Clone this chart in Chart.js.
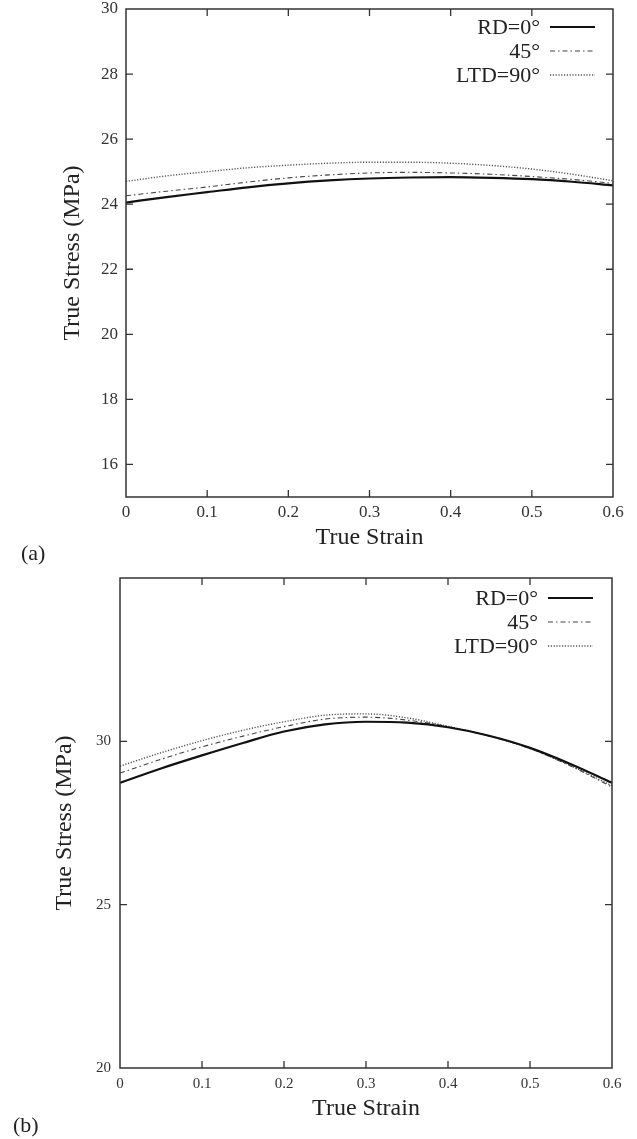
<!DOCTYPE html>
<html>
<head>
<meta charset="utf-8">
<script src="https://cdn.jsdelivr.net/npm/chart.js@4"></script>
<style>
  html, body { margin: 0; padding: 0; background: #fff; }
  body { width: 637px; height: 1139px; position: relative; overflow: hidden; }
  canvas { position: absolute; left: 0; }
  .panel { position: absolute; font-family: 'Liberation Serif', 'Times New Roman', serif; font-size: 22px; color: #222; }
</style>
</head>
<body>
<canvas id="chartA" width="637" height="560" style="top:0;width:637px;height:560px"></canvas>
<canvas id="chartB" width="637" height="579" style="top:560px;width:637px;height:579px"></canvas>
<div class="panel" style="left:21px;top:540px">(a)</div>
<div class="panel" style="left:13px;top:1112px">(b)</div>
<script>
// ---- data ----
const strain = [0, 0.05, 0.1, 0.15, 0.2, 0.25, 0.3, 0.35, 0.4, 0.45, 0.5, 0.55, 0.6];
const seriesLabels = ['RD=0°', '45°', 'LTD=90°'];

// panel (a)
const stressA_RD  = [24.05, 24.22, 24.37, 24.52, 24.64, 24.73, 24.79, 24.82, 24.83, 24.81, 24.77, 24.69, 24.58];
const stressA_45  = [24.26, 24.40, 24.53, 24.68, 24.81, 24.90, 24.96, 24.98, 24.96, 24.92, 24.85, 24.76, 24.64];
const stressA_LTD = [24.70, 24.87, 25.00, 25.12, 25.20, 25.26, 25.29, 25.29, 25.26, 25.19, 25.08, 24.92, 24.72];

// panel (b)
const stressB_RD  = [28.73, 29.17, 29.57, 29.95, 30.30, 30.52, 30.60, 30.57, 30.43, 30.17, 29.80, 29.30, 28.73];
const stressB_45  = [29.03, 29.45, 29.83, 30.16, 30.45, 30.68, 30.74, 30.65, 30.45, 30.16, 29.78, 29.24, 28.60];
const stressB_LTD = [29.24, 29.65, 30.02, 30.34, 30.60, 30.80, 30.84, 30.72, 30.46, 30.17, 29.78, 29.25, 28.64];

// tick labels
const xTicks = [0, 0.1, 0.2, 0.3, 0.4, 0.5, 0.6];
const yTicksA = [16, 18, 20, 22, 24, 26, 28, 30];
const yTicksB = [20, 25, 30];

const xTitle = 'True Strain';
const yTitle = 'True Stress (MPa)';

// ---- styling ----
const FONT = "'Liberation Serif', 'Times New Roman', serif";
const styles = [
  { borderColor: '#111', borderWidth: 2.2, borderDash: [] },
  { borderColor: '#444', borderWidth: 1.1, borderDash: [5, 3, 1.5, 3] },
  { borderColor: '#555', borderWidth: 1.4, borderDash: [1.2, 1.6] }
];

function makeDatasets(arrs) {
  return arrs.map((arr, i) => ({
    label: seriesLabels[i],
    data: strain.map((x, j) => ({ x: x, y: arr[j] })),
    borderColor: styles[i].borderColor,
    borderWidth: styles[i].borderWidth,
    borderDash: styles[i].borderDash,
    pointRadius: 0,
    fill: false,
    cubicInterpolationMode: 'monotone',
    tension: 0.4
  }));
}

// frame + inward ticks (gnuplot style)
const framePlugin = {
  id: 'frame',
  afterDatasetsDraw(chart) {
    const { ctx, chartArea: a, scales } = chart;
    const tl = 7;
    ctx.save();
    ctx.strokeStyle = '#333';
    ctx.lineWidth = 1.5;
    ctx.setLineDash([]);
    ctx.strokeRect(a.left, a.top, a.right - a.left, a.bottom - a.top);
    ctx.lineWidth = 1.3;
    ctx.beginPath();
    scales.x.ticks.forEach(t => {
      const px = scales.x.getPixelForValue(t.value);
      if (px <= a.left + 1 || px >= a.right - 1) return;
      ctx.moveTo(px, a.bottom); ctx.lineTo(px, a.bottom - tl);
      ctx.moveTo(px, a.top); ctx.lineTo(px, a.top + tl);
    });
    scales.y.ticks.forEach(t => {
      const py = scales.y.getPixelForValue(t.value);
      if (py <= a.top + 1 || py >= a.bottom - 1) return;
      ctx.moveTo(a.left, py); ctx.lineTo(a.left + tl, py);
      ctx.moveTo(a.right, py); ctx.lineTo(a.right - tl, py);
    });
    ctx.stroke();
    ctx.restore();
  }
};

// legend: text right-aligned, then line sample
const legendPlugin = {
  id: 'keyLegend',
  afterDatasetsDraw(chart, args, opts) {
    const { ctx, chartArea: a } = chart;
    ctx.save();
    ctx.font = `${opts.fontSize}px ${FONT}`;
    ctx.fillStyle = '#222';
    ctx.textAlign = 'right';
    ctx.textBaseline = 'middle';
    chart.data.datasets.forEach((ds, i) => {
      const y = a.top + opts.firstRow + i * opts.rowHeight;
      ctx.fillText(ds.label, a.right - opts.textRight, y + 1);
      ctx.strokeStyle = ds.borderColor;
      ctx.lineWidth = ds.borderWidth;
      ctx.setLineDash(ds.borderDash || []);
      ctx.beginPath();
      ctx.moveTo(a.right - opts.lineStart, y);
      ctx.lineTo(a.right - opts.lineEnd, y);
      ctx.stroke();
    });
    ctx.restore();
  }
};

function fmt(v) { return String(Math.round(v * 10) / 10); }

function makeChart(id, datasets, cfg) {
  return new Chart(document.getElementById(id), {
    type: 'line',
    data: { datasets: datasets },
    plugins: [framePlugin, legendPlugin],
    options: {
      responsive: false,
      animation: false,
      devicePixelRatio: 1,
      events: [],
      layout: { padding: { top: cfg.padTop, right: cfg.padRight, left: 0, bottom: 0 } },
      plugins: {
        legend: { display: false },
        tooltip: { enabled: false },
        keyLegend: cfg.legend
      },
      scales: {
        x: {
          type: 'linear',
          min: 0, max: 0.6,
          afterBuildTicks: s => { s.ticks = xTicks.map(v => ({ value: v })); },
          afterFit: s => { s.height = cfg.xHeight; s.paddingLeft = 0; s.paddingRight = 0; },
          grid: { display: false, drawTicks: false },
          border: { display: false },
          ticks: {
            font: { family: FONT, size: cfg.tickSize },
            color: '#333',
            padding: cfg.xTickPad,
            maxRotation: 0,
            autoSkip: false,
            callback: v => fmt(v)
          },
          title: {
            display: true, text: xTitle, color: '#222',
            font: { family: FONT, size: 24 },
            padding: { top: 0, bottom: cfg.xTitlePad }
          }
        },
        y: {
          type: 'linear',
          min: cfg.yMin, max: cfg.yMax,
          afterBuildTicks: s => { s.ticks = cfg.yTicks.map(v => ({ value: v })); },
          afterFit: s => { s.width = cfg.yWidth; s.paddingTop = 0; s.paddingBottom = 0; },
          grid: { display: false, drawTicks: false },
          border: { display: false },
          ticks: {
            font: { family: FONT, size: cfg.tickSize },
            color: '#333',
            padding: cfg.yTickPad,
            autoSkip: false,
            callback: v => fmt(v)
          },
          title: {
            display: true, text: yTitle, color: '#222',
            font: { family: FONT, size: 24 },
            padding: { top: cfg.yTitlePad, bottom: 0 }
          }
        }
      }
    }
  });
}

makeChart('chartA', makeDatasets([stressA_RD, stressA_45, stressA_LTD]), {
  padTop: 9, padRight: 24, yWidth: 126, xHeight: 63,
  yMin: 15, yMax: 30, yTicks: yTicksA,
  tickSize: 17, xTickPad: 5, yTickPad: 8,
  xTitlePad: 8, yTitlePad: 58,
  legend: { fontSize: 22, textRight: 73, lineStart: 63, lineEnd: 18, firstRow: 18, rowHeight: 24 }
});

makeChart('chartB', makeDatasets([stressB_RD, stressB_45, stressB_LTD]), {
  padTop: 18, padRight: 25, yWidth: 120, xHeight: 71,
  yMin: 20, yMax: 35, yTicks: yTicksB,
  tickSize: 15, xTickPad: 7, yTickPad: 9,
  xTitlePad: 16, yTitlePad: 50,
  legend: { fontSize: 22, textRight: 74, lineStart: 64, lineEnd: 19, firstRow: 20, rowHeight: 24 }
});
</script>
</body>
</html>
